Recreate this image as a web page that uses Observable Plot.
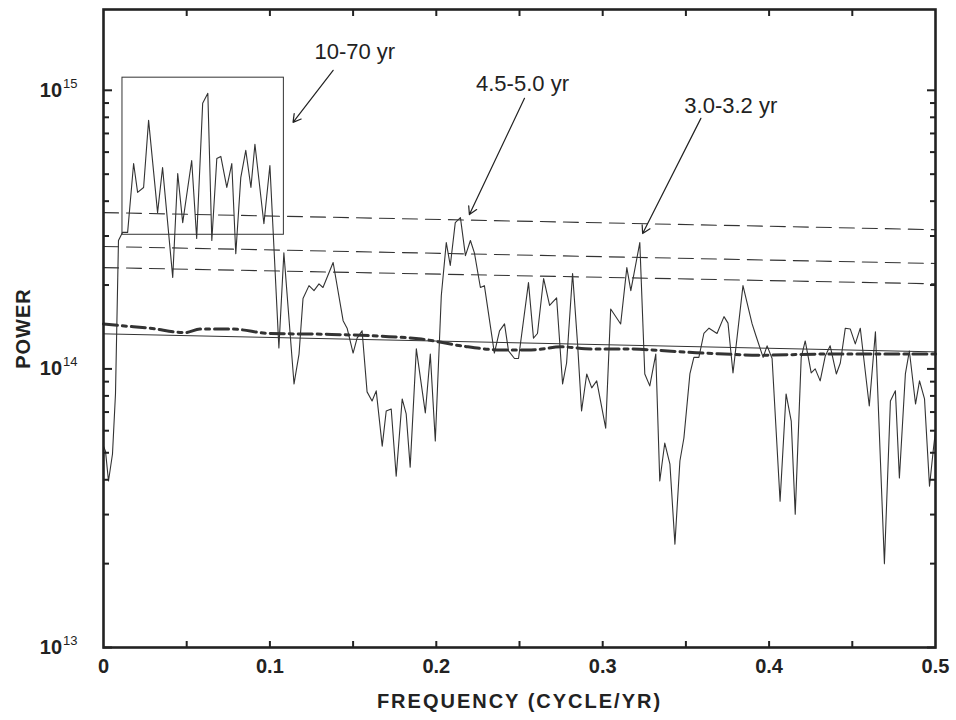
<!DOCTYPE html>
<html><head><meta charset="utf-8">
<script src="https://cdn.jsdelivr.net/npm/d3@7"></script>
<script src="https://cdn.jsdelivr.net/npm/@observablehq/plot@0.6"></script>
<style>
body{margin:0;background:#fff}
svg [aria-label="x-axis tick label"] text{font-weight:bold;font-size:20px}
svg [aria-label="y-axis tick label"] text{font-weight:bold;font-size:20px}
</style>
</head><body><div id="chart"></div>
<script>
// Power spectrum (power in units of 1e14)
const freq = [0,0.0012,0.0030,0.0054,0.0072,0.0090,0.0114,0.0145,0.0181,0.0205,0.0241,0.0271,0.0325,0.0355,0.0416,0.0446,0.0476,0.0530,0.0560,0.0596,0.0627,0.0651,0.0681,0.0705,0.0741,0.0771,0.0795,0.0825,0.0855,0.0886,0.0910,0.0964,0.1000,0.1054,0.1084,0.1145,0.1175,0.1199,0.1235,0.1265,0.1295,0.1319,0.1380,0.1440,0.1464,0.1500,0.1524,0.1554,0.1584,0.1614,0.1639,0.1675,0.1699,0.1729,0.1759,0.1795,0.1819,0.1843,0.1880,0.1934,0.1964,0.1994,0.2030,0.2060,0.2084,0.2114,0.2145,0.2175,0.2205,0.2229,0.2265,0.2289,0.2349,0.2380,0.2410,0.2434,0.2470,0.2494,0.2554,0.2584,0.2608,0.2645,0.2681,0.2723,0.2759,0.2783,0.2819,0.2849,0.2873,0.2904,0.2934,0.2964,0.3018,0.3048,0.3108,0.3145,0.3169,0.3223,0.3253,0.3283,0.3319,0.3343,0.3373,0.3404,0.3434,0.3464,0.3488,0.3524,0.3548,0.3578,0.3608,0.3639,0.3687,0.3729,0.3753,0.3783,0.3843,0.3898,0.3922,0.3964,0.3988,0.4018,0.4066,0.4102,0.4133,0.4157,0.4193,0.4217,0.4253,0.4277,0.4307,0.4337,0.4367,0.4404,0.4428,0.4458,0.4488,0.4518,0.4548,0.4602,0.4639,0.4693,0.4729,0.4759,0.4783,0.4819,0.4843,0.4880,0.4904,0.4934,0.4964,0.4988,0.5000];
const power = [0.528,0.507,0.396,0.495,0.813,2.89,3.09,3.09,5.46,4.30,4.48,7.80,3.64,5.28,2.13,5.03,3.35,5.60,2.94,8.98,9.75,2.89,5.69,5.79,4.48,5.46,2.59,4.86,6.09,4.48,6.40,3.32,5.37,1.19,2.61,0.883,1.13,1.79,1.99,1.91,2.02,1.96,2.41,1.49,1.40,1.14,1.29,1.37,0.827,0.767,0.834,0.528,0.706,0.718,0.412,0.780,0.689,0.444,1.18,0.695,1.13,0.551,1.83,2.84,2.35,3.35,3.49,2.55,2.89,2.61,1.96,1.99,1.14,1.37,1.45,1.16,1.09,1.09,2.04,1.29,1.34,2.11,1.69,1.80,0.883,1.05,2.20,1.23,0.706,0.959,0.855,0.906,0.613,1.64,1.45,2.31,1.91,2.84,0.959,0.869,1.13,0.396,0.542,0.455,0.235,0.467,0.565,0.959,1.10,1.10,1.34,1.40,1.34,1.54,1.46,0.967,1.99,1.45,1.31,1.10,1.21,1.09,0.335,0.813,0.650,0.301,1.10,1.26,0.967,1.00,0.906,1.11,1.21,0.959,1.05,1.40,1.39,1.23,1.40,0.736,1.36,0.200,0.767,0.834,0.406,0.959,1.16,0.748,0.906,0.780,0.379,0.520,0.598];

// Background (red-noise) spectrum, thick dash-dot
const bgFreq = [0,0.010,0.028,0.049,0.058,0.077,0.100,0.137,0.167,0.191,0.215,0.239,0.257,0.275,0.293,0.311,0.360,0.396,0.432,0.468,0.500];
const bgPower = [1.45,1.43,1.40,1.35,1.39,1.39,1.34,1.33,1.31,1.28,1.21,1.17,1.17,1.20,1.18,1.18,1.14,1.12,1.13,1.13,1.13];

// Mean level (thin solid) and confidence levels (dashed), at f = 0 and f = 0.5
const levelFreq = [0, 0.5];
const meanPower = [1.336, 1.151];
const conf1Power = [2.31, 2.02];
const conf2Power = [2.75, 2.39];
const conf3Power = [3.64, 3.16];

// Inset box around the 10-70 yr band
const boxFreq = [0.0114, 0.1084];
const boxPower = [3.03, 11.1];

// Annotations
const annLabels = ["10-70 yr", "4.5-5.0 yr", "3.0-3.2 yr"];
const annTextFreq = [0.151, 0.2518, 0.377];
const annTextPower = [13.7, 10.5, 8.76];
const annFromFreq = [0.138, 0.253, 0.359];
const annFromPower = [11.8, 9.36, 7.93];
const annToFreq = [0.1139, 0.2199, 0.324];
const annToPower = [7.67, 3.58, 3.06];

// Ticks
const xTickLabels = [0, 0.1, 0.2, 0.3, 0.4, 0.5];
const xMinorTicks = [0.05, 0.1, 0.15, 0.2, 0.25, 0.3, 0.35, 0.4, 0.45];
const yMajorTicks = [1e13, 1e14, 1e15];
const yMinorMultipliers = [2, 3, 4, 5, 6, 7, 8, 9];

const U = 1e14;
const spectrum = freq.map((f, i) => ({f, p: power[i] * U}));
const background = bgFreq.map((f, i) => ({f, p: bgPower[i] * U}));
const lineOf = (arr) => levelFreq.map((f, i) => ({f, p: arr[i] * U}));
const yMinorTicks = [1e13, 1e14].flatMap(d => yMinorMultipliers.map(m => m * d));
const annotations = annLabels.map((label, i) => ({
  label, tf: annTextFreq[i], tp: annTextPower[i] * U,
  f1: annFromFreq[i], p1: annFromPower[i] * U, f2: annToFreq[i], p2: annToPower[i] * U
}));
const ink = "#222";
const tickOnly = {label: null, fill: "none", stroke: ink, strokeWidth: 2};

const chart = Plot.plot({
  width: 956, height: 720,
  marginLeft: 103, marginRight: 21, marginTop: 9, marginBottom: 73,
  x: {domain: [0, 0.5], label: null},
  y: {type: "log", domain: [1e13, 1.95e15], label: null},
  style: {fontFamily: "'Liberation Sans', Arial, sans-serif", background: "#fff", color: ink},
  marks: [
    // confidence levels
    Plot.line(lineOf(conf1Power), {x: "f", y: "p", stroke: "#333", strokeWidth: 1.1, strokeDasharray: "15,8"}),
    Plot.line(lineOf(conf2Power), {x: "f", y: "p", stroke: "#333", strokeWidth: 1.1, strokeDasharray: "15,8"}),
    Plot.line(lineOf(conf3Power), {x: "f", y: "p", stroke: "#333", strokeWidth: 1.1, strokeDasharray: "15,8"}),
    // mean
    Plot.line(lineOf(meanPower), {x: "f", y: "p", stroke: "#333", strokeWidth: 1}),
    // background spectrum
    Plot.line(background, {x: "f", y: "p", stroke: "#333", strokeWidth: 3, strokeDasharray: "14,5,4,5", curve: "monotone-x"}),
    // inset box
    Plot.rect([{}], {x1: boxFreq[0], x2: boxFreq[1], y1: boxPower[0] * U, y2: boxPower[1] * U, fill: "none", stroke: "#333", strokeWidth: 1}),
    // spectrum
    Plot.line(spectrum, {x: "f", y: "p", stroke: "#333", strokeWidth: 1.1}),
    // annotations
    Plot.arrow(annotations, {x1: "f1", y1: "p1", x2: "f2", y2: "p2", stroke: ink, strokeWidth: 1.2, headLength: 11}),
    Plot.text(annotations, {x: "tf", y: "tp", text: "label", fontSize: 22, fill: ink}),
    // axes (ticks only, pointing inward)
    Plot.axisX({ticks: xMinorTicks, anchor: "bottom", tickSize: -6, ...tickOnly}),
    Plot.axisX({ticks: xMinorTicks, anchor: "top", tickSize: -6, ...tickOnly}),
    Plot.axisY({ticks: yMinorTicks, anchor: "left", tickSize: -6, ...tickOnly}),
    Plot.axisY({ticks: yMinorTicks, anchor: "right", tickSize: -6, ...tickOnly}),
    Plot.axisY({ticks: yMajorTicks, anchor: "left", tickSize: -9, ...tickOnly}),
    Plot.axisY({ticks: yMajorTicks, anchor: "right", tickSize: -9, ...tickOnly}),
    // tick labels
    Plot.axisX({ticks: xTickLabels, anchor: "bottom", tickSize: 0, tickPadding: 11, tickFormat: d => String(d), label: null, fill: ink}),
    Plot.axisY({ticks: yMajorTicks, anchor: "left", tickSize: 0, tickPadding: 26, tickFormat: d => String(Math.round(Math.log10(d))), label: null, fill: ink}),
    Plot.frame({stroke: ink, strokeWidth: 2.6}),
    Plot.text(["FREQUENCY (CYCLE/YR)"], {frameAnchor: "bottom", dy: 60, fontSize: 20, fontWeight: "bold", fill: ink}),
    Plot.text(["POWER"], {frameAnchor: "left", textAnchor: "middle", dx: -80, rotate: -90, fontSize: 20, fontWeight: "bold", fill: ink})
  ]
});

// y tick labels as 10 with superscript exponent
const ns = "http://www.w3.org/2000/svg";
chart.querySelectorAll('[aria-label="y-axis tick label"] text').forEach(t => {
  const e = t.textContent;
  if (!e) return;
  t.textContent = "";
  const base = document.createElementNS(ns, "tspan");
  base.textContent = "10";
  const sup = document.createElementNS(ns, "tspan");
  sup.setAttribute("dy", "-9");
  sup.setAttribute("dx", "1");
  sup.setAttribute("font-size", "13");
  sup.setAttribute("font-weight", "normal");
  sup.textContent = e;
  t.appendChild(base);
  t.appendChild(sup);
});
// axis titles: wider tracking as in the original
chart.querySelectorAll("text").forEach(t => {
  if (t.textContent === "FREQUENCY (CYCLE/YR)") t.style.letterSpacing = "2px";
  if (t.textContent === "POWER") t.style.letterSpacing = "1px";
});
document.getElementById("chart").appendChild(chart);
</script>
</body></html>
